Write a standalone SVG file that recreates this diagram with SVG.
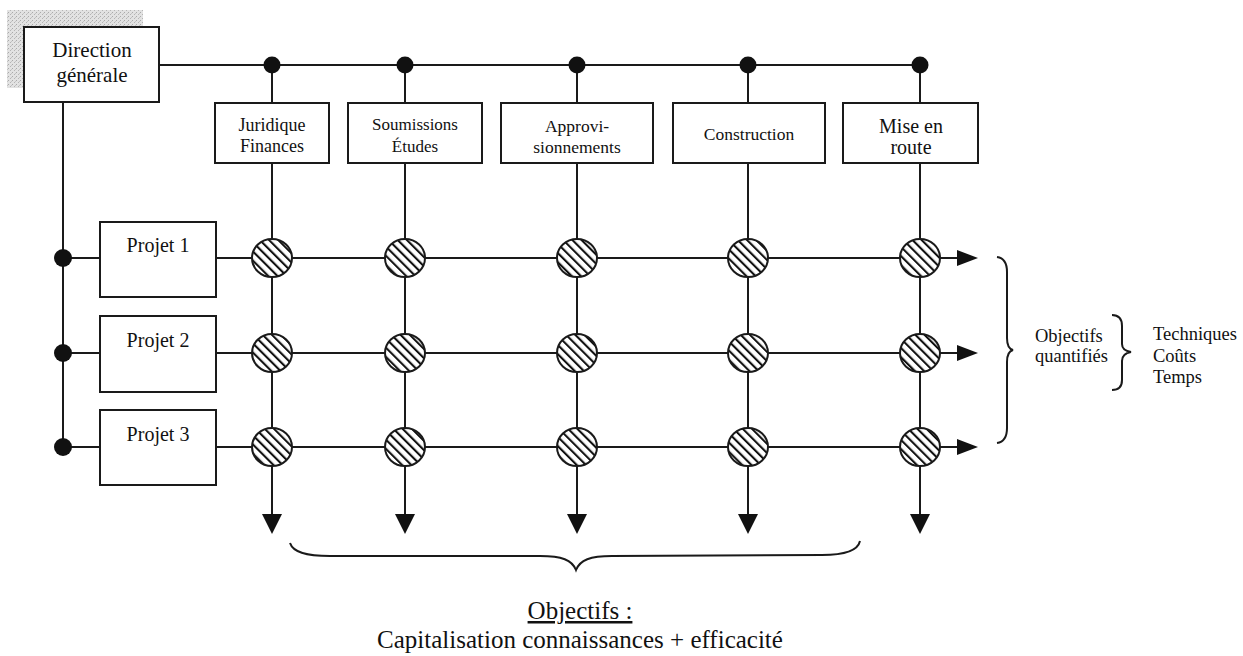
<svg xmlns="http://www.w3.org/2000/svg" width="1243" height="656" viewBox="0 0 1243 656">
<style>
.box{fill:#fff;stroke:#1a1a1a;stroke-width:2}
.ln{fill:none;stroke:#1a1a1a;stroke-width:2}
.dot{fill:#111}
.t{font-family:"Liberation Serif","Times New Roman",serif;fill:#111;text-anchor:middle}
.tl{font-family:"Liberation Serif","Times New Roman",serif;fill:#111}
.hx{fill:url(#hatch);stroke:#1a1a1a;stroke-width:2}
.ah{fill:#111}
</style>
<defs>
<pattern id="hatch" patternUnits="userSpaceOnUse" width="6.5" height="6.5" patternTransform="rotate(-45)">
<rect width="6.5" height="6.5" fill="#fff"/>
<line x1="1" y1="0" x2="1" y2="6.5" stroke="#111" stroke-width="2.2"/>
</pattern>
<pattern id="stip" patternUnits="userSpaceOnUse" width="4" height="4">
<rect width="4" height="4" fill="#e2e2e2"/>
<rect x="0" y="0" width="1" height="1" fill="#aaa"/>
<rect x="2" y="2" width="1" height="1" fill="#b5b5b5"/>
<rect x="3" y="1" width="1" height="1" fill="#c4c4c4"/>
</pattern>
</defs>

<g id="connectors">
<!-- top bus -->
<line class="ln" x1="159" y1="65" x2="920" y2="65"/>
<line class="ln" x1="272" y1="65" x2="272" y2="103"/>
<line class="ln" x1="405" y1="65" x2="405" y2="103"/>
<line class="ln" x1="577" y1="65" x2="577" y2="103"/>
<line class="ln" x1="748" y1="65" x2="748" y2="103"/>
<line class="ln" x1="920" y1="65" x2="920" y2="103"/>
<!-- left bus -->
<line class="ln" x1="63" y1="102" x2="63" y2="447"/>
<line class="ln" x1="63" y1="258" x2="100" y2="258"/>
<line class="ln" x1="63" y1="353" x2="100" y2="353"/>
<line class="ln" x1="63" y1="447" x2="100" y2="447"/>
<!-- rows -->
<line class="ln" x1="216" y1="258" x2="958" y2="258"/>
<line class="ln" x1="216" y1="353" x2="958" y2="353"/>
<line class="ln" x1="216" y1="447" x2="958" y2="447"/>
<!-- columns -->
<line class="ln" x1="272" y1="163" x2="272" y2="515"/>
<line class="ln" x1="405" y1="163" x2="405" y2="515"/>
<line class="ln" x1="577" y1="163" x2="577" y2="515"/>
<line class="ln" x1="748" y1="163" x2="748" y2="515"/>
<line class="ln" x1="920" y1="163" x2="920" y2="515"/>
<!-- dots -->
<circle class="dot" cx="272" cy="65" r="8.5"/>
<circle class="dot" cx="405" cy="65" r="8.5"/>
<circle class="dot" cx="577" cy="65" r="8.5"/>
<circle class="dot" cx="748" cy="65" r="8.5"/>
<circle class="dot" cx="920" cy="65" r="8.5"/>
<circle class="dot" cx="63" cy="258" r="9"/>
<circle class="dot" cx="63" cy="353" r="9"/>
<circle class="dot" cx="63" cy="447" r="9"/>
<!-- right arrowheads -->
<polygon class="ah" points="957,250 978,258 957,266"/>
<polygon class="ah" points="957,345 978,353 957,361"/>
<polygon class="ah" points="957,439 978,447 957,455"/>
<!-- bottom arrowheads -->
<polygon class="ah" points="262,514 282,514 272,534"/>
<polygon class="ah" points="395,514 415,514 405,534"/>
<polygon class="ah" points="567,514 587,514 577,534"/>
<polygon class="ah" points="738,514 758,514 748,534"/>
<polygon class="ah" points="910,514 930,514 920,534"/>
</g>

<g id="intersections">
<ellipse class="hx" cx="272" cy="258" rx="20" ry="19"/>
<ellipse class="hx" cx="405" cy="258" rx="20" ry="19"/>
<ellipse class="hx" cx="577" cy="258" rx="20" ry="19"/>
<ellipse class="hx" cx="748" cy="258" rx="20" ry="19"/>
<ellipse class="hx" cx="920" cy="258" rx="20" ry="19"/>
<ellipse class="hx" cx="272" cy="353" rx="20" ry="19"/>
<ellipse class="hx" cx="405" cy="353" rx="20" ry="19"/>
<ellipse class="hx" cx="577" cy="353" rx="20" ry="19"/>
<ellipse class="hx" cx="748" cy="353" rx="20" ry="19"/>
<ellipse class="hx" cx="920" cy="353" rx="20" ry="19"/>
<ellipse class="hx" cx="272" cy="447" rx="20" ry="19"/>
<ellipse class="hx" cx="405" cy="447" rx="20" ry="19"/>
<ellipse class="hx" cx="577" cy="447" rx="20" ry="19"/>
<ellipse class="hx" cx="748" cy="447" rx="20" ry="19"/>
<ellipse class="hx" cx="920" cy="447" rx="20" ry="19"/>
</g>

<g id="direction">
<rect x="7" y="10" width="136" height="78" fill="url(#stip)"/>
<rect class="box" x="24" y="27" width="135" height="75"/>
<text class="t" x="92" y="57" font-size="21">Direction</text>
<text class="t" x="92" y="82" font-size="21">générale</text>
</g>

<g id="col-juridique">
<rect class="box" x="215" y="103" width="114" height="60"/>
<text class="t" x="272" y="131" font-size="18">Juridique</text>
<text class="t" x="272" y="152" font-size="18">Finances</text>
</g>
<g id="col-soumissions">
<rect class="box" x="348" y="103" width="134" height="60"/>
<text class="t" x="415" y="130" font-size="17">Soumissions</text>
<text class="t" x="415" y="152" font-size="17">Études</text>
</g>
<g id="col-approvisionnements">
<rect class="box" x="501" y="103" width="152" height="60"/>
<text class="t" x="577" y="132" font-size="17.5">Approvi-</text>
<text class="t" x="577" y="153" font-size="17.5">sionnements</text>
</g>
<g id="col-construction">
<rect class="box" x="673" y="103" width="152" height="60"/>
<text class="t" x="749" y="140" font-size="17.5">Construction</text>
</g>
<g id="col-mise-en-route">
<rect class="box" x="843" y="103" width="135" height="60"/>
<text class="t" x="911" y="133" font-size="20">Mise en</text>
<text class="t" x="911" y="154" font-size="20">route</text>
</g>

<g id="projet-1">
<rect class="box" x="100" y="222" width="116" height="75"/>
<text class="t" x="158" y="252" font-size="20">Projet 1</text>
</g>
<g id="projet-2">
<rect class="box" x="100" y="316" width="116" height="76"/>
<text class="t" x="158" y="347" font-size="20">Projet 2</text>
</g>
<g id="projet-3">
<rect class="box" x="100" y="410" width="116" height="75"/>
<text class="t" x="158" y="441" font-size="20">Projet 3</text>
</g>

<g id="right-annotation">
<path class="ln" d="M997,257 C1004,258 1007,263 1007,272 L1007,338 C1007,345 1009,349 1013,350 C1009,351 1007,355 1007,362 L1007,428 C1007,437 1004,442 997,443"/>
<text class="tl" x="1035" y="342" font-size="18.5">Objectifs</text>
<text class="tl" x="1035" y="362" font-size="18.5">quantifiés</text>
<path class="ln" d="M1112,315 C1118,315 1122,318 1122,326 L1122,344 C1122,349 1125,351 1131,352 C1125,353 1122,356 1122,361 L1122,380 C1122,387 1118,390 1112,390"/>
<text class="tl" x="1153" y="340" font-size="18.5">Techniques</text>
<text class="tl" x="1153" y="362" font-size="18.5">Coûts</text>
<text class="tl" x="1153" y="383" font-size="18.5">Temps</text>
</g>

<g id="bottom-annotation">
<path class="ln" d="M290,543 C293,552 305,556 330,556 L540,556 C562,556 572,560 576,570 C580,560 590,556 612,556 L822,555 C846,555 858,550 860,541"/>
<text class="t" x="580" y="619" font-size="25" text-decoration="underline">Objectifs :</text>
<text class="t" x="580" y="648" font-size="25">Capitalisation connaissances + efficacité</text>
</g>
</svg>
